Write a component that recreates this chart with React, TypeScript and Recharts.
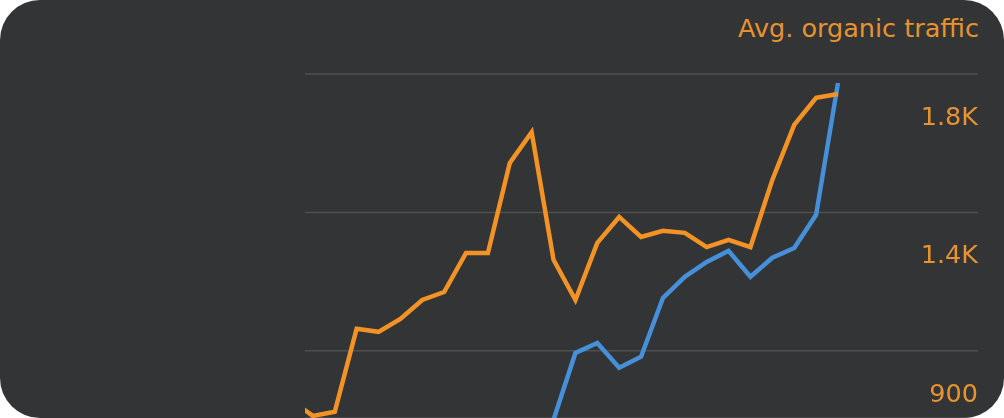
import { CartesianGrid, Line, LineChart, XAxis, YAxis } from "recharts";

// one point per week, index 0 sits just left of the visible area
const weeks = [
  0, 1, 2, 3, 4, 5, 6, 7, 8, 9, 10, 11, 12, 13, 14, 15, 16, 17, 18, 19, 20,
  21, 22, 23, 24, 25,
];

const organicTraffic = [
  858, 812, 824, 1064, 1055, 1092, 1147, 1170, 1283, 1283, 1543, 1632, 1263,
  1147, 1312, 1387, 1329, 1347, 1341, 1300, 1321, 1300, 1494, 1653, 1731,
  1742,
];

const otherMetric = [
  null, null, null, null, null, null, null, null, null, null, null, null, 801,
  994, 1023, 951, 983, 1153, 1214, 1257, 1289, 1214, 1269, 1297, 1393, 1774,
];

const gridTicks = [1000, 1400, 1800];
const tickLabels: Record<number, string> = {
  1000: "900",
  1400: "1.4K",
  1800: "1.8K",
};

const ORANGE = "#f39325";
const ORANGE_TEXT = "#e8932f";
const BLUE = "#4590d8";
const BG = "#333435";
const FONT = "'DejaVu Sans', sans-serif";

const data = weeks.map((w, i) => ({
  week: w,
  traffic: organicTraffic[i],
  other: otherMetric[i],
}));

const renderTick = (props: any) => {
  const { x, y, payload } = props;
  return (
    <text
      key={payload.value}
      x={x}
      y={y + 51}
      textAnchor="end"
      fill={ORANGE_TEXT}
      fontSize={25.5}
      fontFamily={FONT}
    >
      {tickLabels[payload.value]}
    </text>
  );
};

export default function App() {
  return (
    <div
      style={{
        position: "fixed",
        top: 0,
        left: 0,
        width: 1004,
        height: 418,
        background: BG,
        borderRadius: 40,
        overflow: "hidden",
      }}
    >
      <div
        style={{
          position: "absolute",
          top: 16,
          right: 25,
          color: ORANGE_TEXT,
          fontFamily: FONT,
          fontSize: 25.5,
          lineHeight: 1,
          whiteSpace: "nowrap",
        }}
      >
        Avg. organic traffic
      </div>
      <LineChart
        width={1004}
        height={418}
        data={data}
        margin={{ top: 74, right: 26, bottom: 0, left: 305 }}
      >
        <CartesianGrid vertical={false} stroke="#4e4f50" strokeWidth={1.5} />
        <XAxis
          dataKey="week"
          type="number"
          domain={[0.64, 31.4]}
          allowDataOverflow
          hide
        />
        <YAxis
          orientation="right"
          mirror
          domain={[806, 1800]}
          allowDataOverflow
          ticks={gridTicks}
          interval={0}
          width={60}
          axisLine={false}
          tickLine={false}
          tickSize={0}
          tickMargin={0}
          tick={renderTick}
        />
        <Line
          dataKey="other"
          stroke={BLUE}
          strokeWidth={4.5}
          dot={false}
          isAnimationActive={false}
        />
        <Line
          dataKey="traffic"
          stroke={ORANGE}
          strokeWidth={4.5}
          dot={false}
          isAnimationActive={false}
        />
      </LineChart>
    </div>
  );
}
